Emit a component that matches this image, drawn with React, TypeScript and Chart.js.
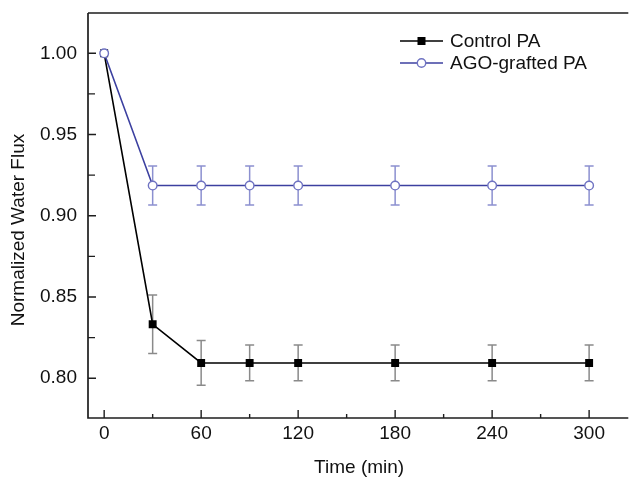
import React, { useEffect, useRef } from "react";
import { Chart, registerables } from "chart.js";

Chart.register(...registerables);

const times = [0, 30, 60, 90, 120, 180, 240, 300];
const controlPA = [1.0, 0.8332, 0.8094, 0.8094, 0.8094, 0.8094, 0.8094, 0.8094];
const controlErr = [0, 0.018, 0.0138, 0.011, 0.011, 0.011, 0.011, 0.011];
const agoPA = [1.0, 0.9186, 0.9186, 0.9186, 0.9186, 0.9186, 0.9186, 0.9186];
const agoErr = [0, 0.012, 0.012, 0.012, 0.012, 0.012, 0.012, 0.012];

const xMajorTicks = [0, 60, 120, 180, 240, 300];
const xMinorTicks = [30, 90, 150, 210, 270];
const yMajorTicks = [0.8, 0.85, 0.9, 0.95, 1.0];
const yMinorTicks = [0.825, 0.875, 0.925, 0.975];
const yTickLabels = ["0.80", "0.85", "0.90", "0.95", "1.00"];

const seriesNames = ["Control PA", "AGO-grafted PA"];
const xTitle = "Time (min)";
const yTitle = "Normalized Water Flux";

const FONT = "19px 'Liberation Sans', Arial, sans-serif";
const AXIS = "#1e1e1e";
const BLUE = "#3c40a0";
const BLUE_MARK = "#6f73c2";
const BLUE_ERR = "#8c90d0";
const GRAY_ERR = "#8a8a8a";

const errorBarPlugin = {
  id: "errorBars",
  beforeDatasetsDraw(chart: any) {
    const ctx = chart.ctx;
    const xs = chart.scales.x;
    const ys = chart.scales.y;
    const sets = [
      { vals: controlPA, errs: controlErr, color: GRAY_ERR },
      { vals: agoPA, errs: agoErr, color: BLUE_ERR },
    ];
    ctx.save();
    ctx.lineWidth = 1.5;
    for (const s of sets) {
      ctx.strokeStyle = s.color;
      times.forEach((t, i) => {
        const e = s.errs[i];
        if (!e) return;
        const px = xs.getPixelForValue(t);
        const top = ys.getPixelForValue(s.vals[i] + e);
        const bot = ys.getPixelForValue(s.vals[i] - e);
        ctx.beginPath();
        ctx.moveTo(px, top);
        ctx.lineTo(px, bot);
        ctx.moveTo(px - 4.5, top);
        ctx.lineTo(px + 4.5, top);
        ctx.moveTo(px - 4.5, bot);
        ctx.lineTo(px + 4.5, bot);
        ctx.stroke();
      });
    }
    ctx.restore();
  },
};

const framePlugin = {
  id: "frame",
  afterDraw(chart: any) {
    const ctx = chart.ctx;
    const xs = chart.scales.x;
    const ys = chart.scales.y;
    const a = chart.chartArea;
    ctx.save();
    ctx.strokeStyle = AXIS;
    ctx.lineWidth = 1.7;
    ctx.beginPath();
    ctx.moveTo(a.left, a.top);
    ctx.lineTo(a.right + 2, a.top);
    ctx.moveTo(a.left, a.top);
    ctx.lineTo(a.left, a.bottom);
    ctx.lineTo(a.right + 2, a.bottom);
    ctx.stroke();

    ctx.lineWidth = 1.4;
    ctx.beginPath();
    for (const t of xMajorTicks) {
      const px = xs.getPixelForValue(t);
      ctx.moveTo(px, a.bottom);
      ctx.lineTo(px, a.bottom - 8);
    }
    for (const t of xMinorTicks) {
      const px = xs.getPixelForValue(t);
      ctx.moveTo(px, a.bottom);
      ctx.lineTo(px, a.bottom - 4);
    }
    for (const v of yMajorTicks) {
      const py = ys.getPixelForValue(v);
      ctx.moveTo(a.left, py);
      ctx.lineTo(a.left + 8, py);
    }
    for (const v of yMinorTicks) {
      const py = ys.getPixelForValue(v);
      ctx.moveTo(a.left, py);
      ctx.lineTo(a.left + 7, py);
    }
    ctx.stroke();

    ctx.fillStyle = "#111";
    ctx.font = FONT;
    ctx.textAlign = "center";
    ctx.textBaseline = "middle";
    for (const t of xMajorTicks) {
      ctx.fillText(String(t), xs.getPixelForValue(t), a.bottom + 16);
    }
    ctx.textAlign = "right";
    yMajorTicks.forEach((v, i) => {
      ctx.fillText(yTickLabels[i], a.left - 11, ys.getPixelForValue(v));
    });

    ctx.textAlign = "center";
    ctx.fillText(xTitle, (a.left + a.right) / 2 + 2, a.bottom + 50);
    ctx.save();
    ctx.translate(19, 230);
    ctx.rotate(-Math.PI / 2);
    ctx.fillText(yTitle, 0, 0);
    ctx.restore();

    // legend
    const rows = [
      { y: 41, line: "#000", name: seriesNames[0], kind: "rect" },
      { y: 63, line: BLUE, name: seriesNames[1], kind: "circle" },
    ];
    for (const r of rows) {
      ctx.strokeStyle = r.line;
      ctx.lineWidth = 1.6;
      ctx.beginPath();
      ctx.moveTo(400, r.y);
      ctx.lineTo(443, r.y);
      ctx.stroke();
      if (r.kind === "rect") {
        ctx.fillStyle = "#000";
        ctx.fillRect(417.5, r.y - 4, 8, 8);
      } else {
        ctx.fillStyle = "#fff";
        ctx.strokeStyle = BLUE_MARK;
        ctx.lineWidth = 1.4;
        ctx.beginPath();
        ctx.arc(421.5, r.y, 4.2, 0, Math.PI * 2);
        ctx.fill();
        ctx.stroke();
      }
      ctx.fillStyle = "#111";
      ctx.textAlign = "left";
      ctx.fillText(r.name, 450, r.y + 1);
    }
    ctx.restore();
  },
};

export default function App() {
  const ref = useRef<HTMLCanvasElement>(null);
  useEffect(() => {
    if (!ref.current) return;
    const chart = new Chart(ref.current, {
      type: "line",
      data: {
        datasets: [
          {
            label: seriesNames[0],
            data: times.map((t, i) => ({ x: t, y: controlPA[i] })),
            borderColor: "#000",
            backgroundColor: "#000",
            borderWidth: 1.6,
            pointStyle: "rect",
            pointRadius: 5.6,
            pointBorderWidth: 0,
            order: 1,
          },
          {
            label: seriesNames[1],
            data: times.map((t, i) => ({ x: t, y: agoPA[i] })),
            borderColor: BLUE,
            backgroundColor: "#fff",
            pointBorderColor: BLUE_MARK,
            pointBackgroundColor: "#fff",
            borderWidth: 1.6,
            pointStyle: "circle",
            pointRadius: 4.3,
            pointBorderWidth: 1.4,
            order: 0,
          },
        ],
      },
      options: {
        animation: false,
        responsive: false,
        devicePixelRatio: 1,
        layout: { padding: { left: 88, top: 13, right: 0, bottom: 63 } },
        plugins: { legend: { display: false }, tooltip: { enabled: false } },
        scales: {
          x: { type: "linear", min: -10, max: 323, display: false },
          y: { type: "linear", min: 0.7755, max: 1.0248, display: false },
        },
      },
      plugins: [errorBarPlugin, framePlugin],
    });
    return () => chart.destroy();
  }, []);
  return (
    <div style={{ position: "fixed", left: 0, top: 0, width: 632, height: 481, background: "#fff" }}>
      <canvas ref={ref} width={632} height={481} />
    </div>
  );
}
